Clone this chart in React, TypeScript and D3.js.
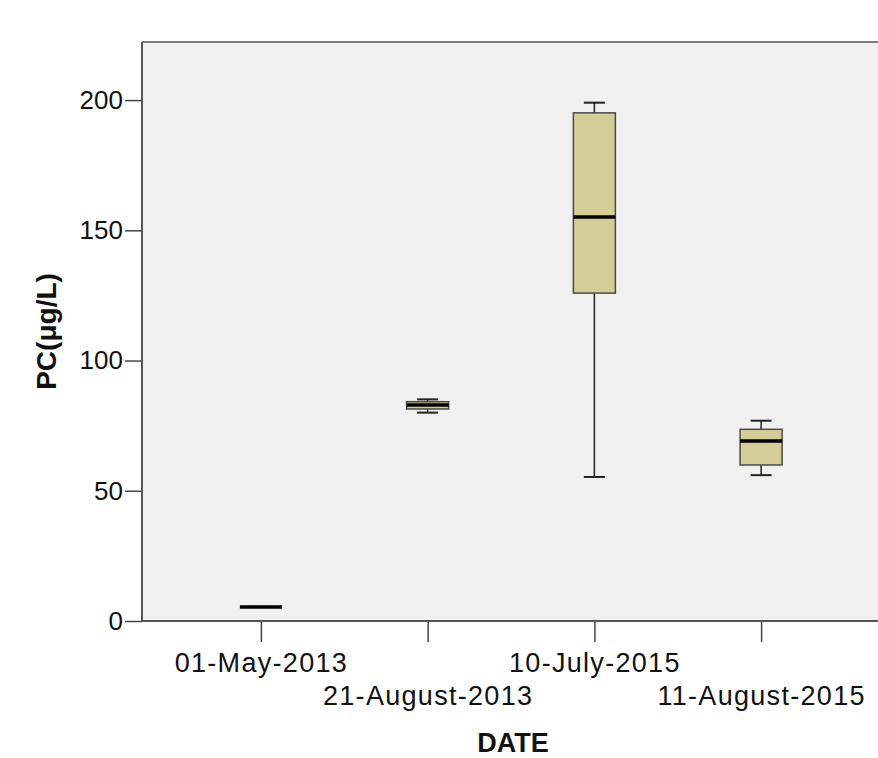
import { useEffect, useRef } from "react";
import * as d3 from "d3";

const categories = ["01-May-2013", "21-August-2013", "10-July-2015", "11-August-2015"];
const minVals = [5.4, 80.0, 55.3, 56.0];
const q1Vals = [5.4, 81.4, 125.9, 59.9];
const medianVals = [5.4, 82.9, 155.1, 69.1];
const q3Vals = [5.4, 84.2, 195.1, 73.6];
const maxVals = [5.4, 85.1, 199.0, 76.9];
const yTicks = [0, 50, 100, 150, 200];

export default function App() {
  const ref = useRef<SVGSVGElement>(null);

  useEffect(() => {
    if (!ref.current) return;
    const svg = d3.select(ref.current);
    svg.selectAll("*").remove();
    const width = 878;
    const margin = { top: 42, left: 142, bottom: 621, right: 880 };
    const font = "'Liberation Sans', Arial, sans-serif";

    const x = d3.scalePoint<string>().domain(categories).range([margin.left, margin.right]).padding(0.713);
    const y = d3.scaleLinear().domain([0, 222.3]).range([margin.bottom, margin.top]);

    svg
      .append("rect")
      .attr("x", margin.left)
      .attr("y", margin.top)
      .attr("width", width - margin.left + 10)
      .attr("height", margin.bottom - margin.top)
      .attr("fill", "#f0f0f0");

    svg
      .append("line")
      .attr("x1", margin.left)
      .attr("x2", width)
      .attr("y1", margin.top)
      .attr("y2", margin.top)
      .attr("stroke", "#7a7a7a")
      .attr("stroke-width", 2);

    // y axis
    const yAxis = svg
      .append("g")
      .attr("transform", `translate(${margin.left},0)`)
      .call(d3.axisLeft(y).tickValues(yTicks).tickSize(17).tickPadding(2).tickSizeOuter(0));
    yAxis.select(".domain").remove();
    yAxis.selectAll(".tick line").attr("stroke", "#444").attr("stroke-width", 1.5);
    yAxis
      .selectAll(".tick text")
      .attr("fill", "#111")
      .style("font-family", font)
      .style("font-size", "26px");

    // x axis
    const xAxis = svg
      .append("g")
      .attr("transform", `translate(0,${margin.bottom})`)
      .call(d3.axisBottom(x).tickSize(21).tickSizeOuter(0));
    xAxis.select(".domain").remove();
    xAxis.selectAll(".tick line").attr("stroke", "#444").attr("stroke-width", 1.5);
    xAxis
      .selectAll(".tick text")
      .attr("fill", "#111")
      .attr("y", (_d, i) => (i % 2 === 0 ? 51 : 84))
      .attr("dy", 0)
      .style("font-family", font)
      .style("font-size", "27px")
      .style("letter-spacing", "1.3px");

    svg
      .append("line")
      .attr("x1", margin.left)
      .attr("x2", margin.left)
      .attr("y1", margin.top)
      .attr("y2", margin.bottom)
      .attr("stroke", "#555")
      .attr("stroke-width", 2);
    svg
      .append("line")
      .attr("x1", margin.left)
      .attr("x2", width)
      .attr("y1", margin.bottom)
      .attr("y2", margin.bottom)
      .attr("stroke", "#555")
      .attr("stroke-width", 2);

    const boxW = 42;
    const capW = 21;
    const g = svg.append("g");
    categories.forEach((c, i) => {
      const cx = x(c)!;
      const b = g.append("g");
      b.append("line")
        .attr("x1", cx).attr("x2", cx)
        .attr("y1", y(maxVals[i])).attr("y2", y(minVals[i]))
        .attr("stroke", "#222").attr("stroke-width", 1.5);
      [minVals[i], maxVals[i]].forEach((v) => {
        b.append("line")
          .attr("x1", cx - capW / 2).attr("x2", cx + capW / 2)
          .attr("y1", y(v)).attr("y2", y(v))
          .attr("stroke", "#222").attr("stroke-width", 2);
      });
      b.append("rect")
        .attr("x", cx - boxW / 2)
        .attr("y", y(q3Vals[i]))
        .attr("width", boxW)
        .attr("height", Math.max(0, y(q1Vals[i]) - y(q3Vals[i])))
        .attr("fill", "#d3ce98")
        .attr("stroke", "#4a4a4a")
        .attr("stroke-width", 1.5);
      b.append("line")
        .attr("x1", cx - boxW / 2).attr("x2", cx + boxW / 2)
        .attr("y1", y(medianVals[i])).attr("y2", y(medianVals[i]))
        .attr("stroke", "#000").attr("stroke-width", 3.5);
    });

    svg
      .append("text")
      .attr("transform", `translate(56,${(margin.top + margin.bottom) / 2}) rotate(-90)`)
      .attr("text-anchor", "middle")
      .style("font-family", font)
      .style("font-size", "28px")
      .style("font-weight", "700")
      .attr("fill", "#111")
      .text("PC(μg/L)");

    svg
      .append("text")
      .attr("x", 513)
      .attr("y", 752)
      .attr("text-anchor", "middle")
      .style("font-family", font)
      .style("font-size", "27px")
      .style("font-weight", "700")
      .attr("fill", "#111")
      .text("DATE");
  }, []);

  return (
    <svg
      ref={ref}
      width={878}
      height={758}
      style={{ position: "absolute", left: 0, top: 0, background: "#fff" }}
    />
  );
}
